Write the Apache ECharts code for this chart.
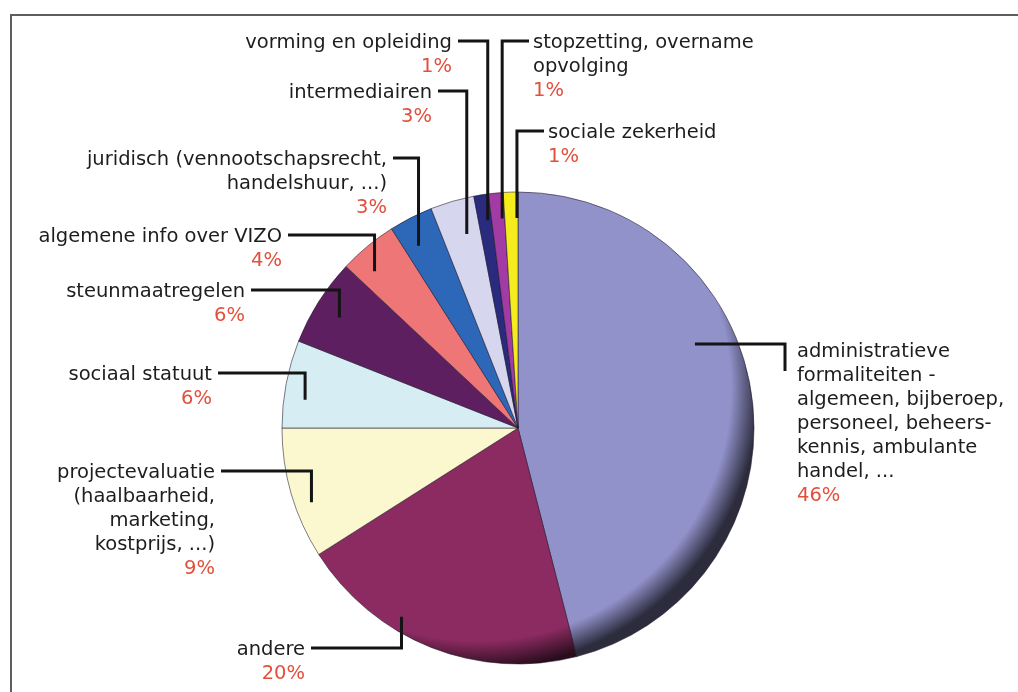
<!DOCTYPE html>
<html>
<head>
<meta charset="utf-8">
<title>Vragen per thema</title>
<script src="https://cdn.jsdelivr.net/npm/echarts@6/dist/echarts.min.js"></script>
<style>
  html, body { margin: 0; padding: 0; background: #fff; }
  #frame {
    position: absolute; left: 10px; top: 14px; right: 0; bottom: 0;
    border-top: 2px solid #5e5e5e; border-left: 2px solid #5e5e5e;
  }
  #chart { position: absolute; left: 0; top: 0; width: 1018px; height: 692px; }
</style>
</head>
<body>
<div id="frame"></div>
<div id="chart"></div>
<script>
// thema's, clockwise from 12 o'clock
const names = [
  'administratieve\nformaliteiten -\nalgemeen, bijberoep,\npersoneel, beheers-\nkennis, ambulante\nhandel, ...',
  'andere',
  'projectevaluatie\n(haalbaarheid,\nmarketing,\nkostprijs, ...)',
  'sociaal statuut',
  'steunmaatregelen',
  'algemene info over VIZO',
  'juridisch (vennootschapsrecht,\nhandelshuur, ...)',
  'intermediairen',
  'vorming en opleiding',
  'stopzetting, overname\nopvolging',
  'sociale zekerheid'
]
const shares = [46, 20, 9, 6, 6, 4, 3, 3, 1, 1, 1]
const colors = [
  '#9292cb', '#8c2b62', '#fbf8cf', '#d6edf4', '#5e1f60', '#ef7677',
  '#2d67b8', '#d6d6ee', '#2a2a7e', '#a23ca4', '#f4ec1c'
]

// layout of the labels: [x, y, align] and where the leader line ends in the slice
const labelPos = [
  [797, 340, 'left'], [305, 638, 'right'], [215, 461, 'right'], [212, 363, 'right'],
  [245, 280, 'right'], [282, 225, 'right'], [387, 148, 'right'], [432, 81, 'right'],
  [452, 31, 'right'], [533, 31, 'left'], [548, 121, 'left']
]
const anchorFrac = [0.39, 0.64, 0.39, 0.35, 0.47, 0.3, 0.35, 0.63, 0.7, 0.8, 0.92]
const anchorRad = [0.83, 0.94, 0.93, 0.91, 0.89, 0.9, 0.88, 0.85, 0.89, 0.89, 0.89]

const CX = 518
const CY = 428
const R = 236
const FONT = '"DejaVu Sans", Verdana, sans-serif'

function darken(hex, k) {
  const n = parseInt(hex.slice(1), 16)
  const r = Math.round(((n >> 16) & 255) * k)
  const g = Math.round(((n >> 8) & 255) * k)
  const b = Math.round((n & 255) * k)
  return 'rgb(' + r + ',' + g + ',' + b + ')'
}

function shaded(hex) {
  return {
    type: 'radial', x: CX - 40, y: CY - 40, r: R + 45, global: true,
    colorStops: [
      { offset: 0, color: hex },
      { offset: 0.9, color: hex },
      { offset: 1, color: darken(hex, 0.3) }
    ]
  }
}

const total = shares.reduce((a, b) => a + b, 0)
const startAngles = []
let acc = 0
shares.forEach(v => { startAngles.push(acc / total * 360); acc += v })

function anchor(i) {
  const a = (startAngles[i] + shares[i] / total * 360 * anchorFrac[i]) * Math.PI / 180
  const r = R * anchorRad[i]
  return [CX + r * Math.sin(a), CY - r * Math.cos(a)]
}

const chart = echarts.init(document.getElementById('chart'))
chart.setOption({
  backgroundColor: 'transparent',
  animation: false,
  series: [{
    // the slices
    type: 'pie',
    center: [CX, CY],
    radius: R,
    startAngle: 90,
    clockwise: true,
    silent: true,
    label: { show: false },
    labelLine: { show: false },
    itemStyle: {
      borderColor: 'rgba(30,20,40,0.55)',
      borderWidth: 1
    },
    data: names.map((n, i) => ({
      name: n,
      value: shares[i],
      itemStyle: { color: shaded(colors[i]) }
    }))
  }, {
    // same pie, transparent, only to draw labels and leader lines on top
    type: 'pie',
    z: 5,
    center: [CX, CY],
    radius: R,
    startAngle: 90,
    clockwise: true,
    silent: true,
    avoidLabelOverlap: false,
    itemStyle: { color: 'rgba(0,0,0,0)', borderWidth: 0 },
    label: {
      show: true,
      position: 'outside',
      formatter(p) {
        return '{n|' + p.name + '}\n{p|' + Math.round(p.percent) + '%}'
      },
      rich: {
        n: { fontFamily: FONT, fontSize: 19.5, lineHeight: 24, color: '#1d1d1d' },
        p: { fontFamily: FONT, fontSize: 19.5, lineHeight: 24, color: '#e2503c' }
      }
    },
    labelLine: {
      show: true,
      smooth: false,
      lineStyle: { color: '#141414', width: 3 }
    },
    labelLayout(params) {
      const i = params.dataIndex
      const [x, y, align] = labelPos[i]
      const [ax, ay] = anchor(i)
      const lineY = y + 10
      let pts
      if (i === 0) {
        pts = [[ax, ay], [x - 12, ay], [x - 12, ay + 27]]
      } else {
        const ex = align === 'right' ? x + 6 : x - 4
        pts = [[ex, lineY], [ax, lineY], [ax, ay]]
      }
      return { x: x, y: y, align: align, verticalAlign: 'top', labelLinePoints: pts }
    },
    data: names.map((n, i) => ({ name: n, value: shares[i] }))
  }]
})
</script>
</body>
</html>
